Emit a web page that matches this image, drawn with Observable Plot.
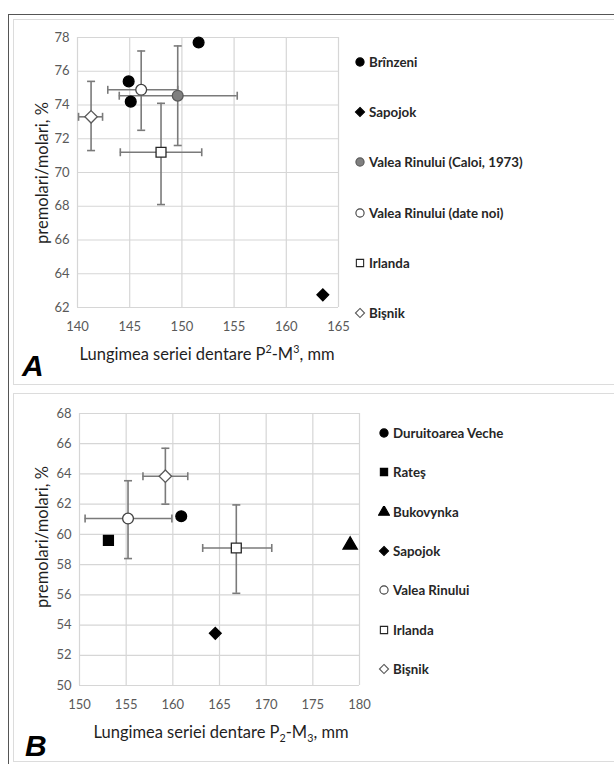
<!DOCTYPE html>
<html>
<head>
<meta charset="utf-8">
<script src="https://cdn.jsdelivr.net/npm/d3@7"></script>
<script src="https://cdn.jsdelivr.net/npm/@observablehq/plot@0.6"></script>
<style>
  html, body { margin: 0; padding: 0; background: #fff; }
  #root { position: relative; width: 614px; height: 764px; overflow: hidden; background: #fff; font-family: Lato, "Open Sans", sans-serif; }
  .frameOuter { position: absolute; left: 8px; top: 14px; width: 620px; height: 760px; border: 1.5px solid #555; box-sizing: border-box; }
  .panelBox { position: absolute; border: 1.5px solid #dcdcdc; box-sizing: border-box; }
  .ytitle { position: absolute; transform: translate(-50%, -50%) rotate(-90deg); white-space: nowrap; font-size: 16.5px; color: #1f1f1f; }
  .xtitle { position: absolute; transform: translate(-50%, -50%); white-space: nowrap; font-size: 16.5px; color: #1f1f1f; }
  .panelLetter { position: absolute; font-family: "Liberation Sans", Arial, sans-serif; font-weight: bold; font-style: italic; font-size: 30px; color: #000; line-height: 1; }
  .legItem { position: absolute; display: flex; align-items: center; white-space: nowrap; font-size: 13.3px; font-weight: bold; color: #262626; transform: translateY(-50%); }
  .legItem svg { margin-right: 3px; }
  sup, sub { font-size: 0.65em; }
</style>
</head>
<body>
<div id="root">
  <div class="frameOuter"></div>
  <div class="panelBox" style="left:13px;top:19px;width:610px;height:366px;"></div>
  <div class="panelBox" style="left:13px;top:393px;width:610px;height:369px;"></div>
</div>
<script>
// ---------------- Panel A data ----------------
const aSeries = ["Brînzeni", "Sapojok", "Valea Rinului (Caloi, 1973)", "Valea Rinului (date noi)", "Irlanda", "Bişnik"];
const aPointSeries = ["Brînzeni", "Brînzeni", "Brînzeni", "Sapojok", "Valea Rinului (Caloi, 1973)", "Valea Rinului (date noi)", "Irlanda", "Bişnik"];
const aX = [151.6, 144.9, 145.1, 163.5, 149.6, 146.1, 148.0, 141.3];
const aY = [77.7, 75.4, 74.2, 62.75, 74.55, 74.9, 71.2, 73.3];
const aErrSeries = ["Valea Rinului (Caloi, 1973)", "Valea Rinului (date noi)", "Irlanda", "Bişnik"];
const aErrXLo = [144.0, 142.9, 144.1, 140.1];
const aErrXHi = [155.3, 149.6, 151.9, 142.4];
const aErrYLo = [71.6, 72.5, 68.1, 71.3];
const aErrYHi = [77.5, 77.2, 74.1, 75.4];
const aXTicks = [140, 145, 150, 155, 160, 165];
const aYTicks = [62, 64, 66, 68, 70, 72, 74, 76, 78];

// ---------------- Panel B data ----------------
const bSeries = ["Duruitoarea Veche", "Rateş", "Bukovynka", "Sapojok", "Valea Rinului", "Irlanda", "Bişnik"];
const bPointSeries = ["Duruitoarea Veche", "Rateş", "Bukovynka", "Sapojok", "Valea Rinului", "Irlanda", "Bişnik"];
const bX = [160.9, 153.1, 179.0, 164.55, 155.2, 166.8, 159.2];
const bY = [61.2, 59.6, 59.3, 53.45, 61.05, 59.1, 63.85];
const bErrSeries = ["Valea Rinului", "Irlanda", "Bişnik"];
const bErrXLo = [150.6, 163.2, 156.8];
const bErrXHi = [159.9, 170.6, 161.6];
const bErrYLo = [58.4, 56.1, 62.0];
const bErrYHi = [63.55, 61.95, 65.7];
const bXTicks = [150, 155, 160, 165, 170, 175, 180];
const bYTicks = [50, 52, 54, 56, 58, 60, 62, 64, 66, 68];

// ---------------- marker styles ----------------
const styles = {
  "Brînzeni": {symbol: "circle", fill: "#000", stroke: "#000", r: 5.4},
  "Sapojok": {symbol: "diamond2", fill: "#000", stroke: "#000", r: 5.3},
  "Valea Rinului (Caloi, 1973)": {symbol: "circle", fill: "#7f7f7f", stroke: "#595959", r: 5.4},
  "Valea Rinului (date noi)": {symbol: "circle", fill: "#fff", stroke: "#404040", r: 5.4},
  "Irlanda": {symbol: "square", fill: "#fff", stroke: "#262626", r: 5.6},
  "Bişnik": {symbol: "diamond2", fill: "#fff", stroke: "#595959", r: 5.6},
  "Duruitoarea Veche": {symbol: "circle", fill: "#000", stroke: "#000", r: 5.4},
  "Rateş": {symbol: "square", fill: "#000", stroke: "#000", r: 5.6},
  "Bukovynka": {symbol: "triangle", fill: "#000", stroke: "#000", r: 5.3},
  "Valea Rinului": {symbol: "circle", fill: "#fff", stroke: "#404040", r: 5.4}
};

// custom cap symbols (pixel-sized error bar caps)
const hCap = {draw(ctx, size) { const r = Math.sqrt(size / Math.PI); ctx.moveTo(-r, 0); ctx.lineTo(r, 0); }};
const vCap = {draw(ctx, size) { const r = Math.sqrt(size / Math.PI); ctx.moveTo(0, -r); ctx.lineTo(0, r); }};

function buildPanel(cfg) {
  const pts = cfg.pointSeries.map((s, i) => ({series: s, x: cfg.x[i], y: cfg.y[i]}));
  const errs = cfg.errSeries.map((s, i) => {
    const p = pts.find(d => d.series === s);
    return {series: s, x: p.x, y: p.y, xlo: cfg.errXLo[i], xhi: cfg.errXHi[i], ylo: cfg.errYLo[i], yhi: cfg.errYHi[i]};
  });
  const errColor = "#7a7a7a";
  const marks = [
    Plot.gridX(cfg.xTicks, {stroke: "#d6d6d6", strokeOpacity: 1, strokeWidth: 1.2}),
    Plot.gridY(cfg.yTicks, {stroke: "#d6d6d6", strokeOpacity: 1, strokeWidth: 1.2}),
    Plot.axisX(cfg.xTicks, {tickSize: 0, tickPadding: 14, fill: "#595959", fontSize: 13}),
    Plot.axisY(cfg.yTicks, {tickSize: 0, tickPadding: 8, fill: "#595959", fontSize: 13}),
    Plot.ruleY(errs, {y: "y", x1: "xlo", x2: "xhi", stroke: errColor, strokeWidth: 1.6}),
    Plot.ruleX(errs, {x: "x", y1: "ylo", y2: "yhi", stroke: errColor, strokeWidth: 1.6}),
    Plot.dot(errs, {x: "xlo", y: "y", symbol: vCap, r: 4, stroke: errColor, fill: "none", strokeWidth: 1.6}),
    Plot.dot(errs, {x: "xhi", y: "y", symbol: vCap, r: 4, stroke: errColor, fill: "none", strokeWidth: 1.6}),
    Plot.dot(errs, {x: "x", y: "ylo", symbol: hCap, r: 4, stroke: errColor, fill: "none", strokeWidth: 1.6}),
    Plot.dot(errs, {x: "x", y: "yhi", symbol: hCap, r: 4, stroke: errColor, fill: "none", strokeWidth: 1.6})
  ];
  cfg.series.forEach(s => {
    const st = styles[s];
    marks.push(Plot.dot(pts.filter(d => d.series === s), {x: "x", y: "y", symbol: st.symbol, r: st.r, fill: st.fill, stroke: st.stroke, strokeWidth: 1.3}));
  });
  return Plot.plot({
    width: cfg.width, height: cfg.height,
    marginLeft: cfg.ml, marginRight: cfg.mr, marginTop: cfg.mt, marginBottom: cfg.mb,
    x: {domain: cfg.xDomain, label: null},
    y: {domain: cfg.yDomain, label: null},
    style: {fontFamily: "Lato, 'Open Sans', sans-serif", fontSize: "13px", background: "transparent", overflow: "visible"},
    marks
  });
}

const root = document.getElementById("root");

function place(el, left, top) {
  el.style.position = "absolute";
  el.style.left = left + "px";
  el.style.top = top + "px";
  root.appendChild(el);
}

function legendSymbolSVG(s) {
  const st = styles[s];
  const map = {circle: d3.symbolCircle, square: d3.symbolSquare, diamond2: d3.symbolDiamond2, triangle: d3.symbolTriangle};
  const sz = 4.1;
  const path = d3.symbol(map[st.symbol], Math.PI * sz * sz)();
  return `<svg width="12" height="12" viewBox="-6 -6 12 12"><path d="${path}" fill="${st.fill}" stroke="${st.stroke}" stroke-width="1.1"/></svg>`;
}

function addLegend(series, x, y0, dy) {
  series.forEach((s, i) => {
    const d = document.createElement("div");
    d.className = "legItem";
    d.innerHTML = legendSymbolSVG(s) + `<span>${s}</span>`;
    d.style.left = (x - 6) + "px";
    d.style.top = (y0 + i * dy) + "px";
    root.appendChild(d);
  });
}

function addText(cls, html, left, top) {
  const d = document.createElement("div");
  d.className = cls;
  d.innerHTML = html;
  d.style.left = left + "px";
  d.style.top = top + "px";
  root.appendChild(d);
}

// Panel A
const plotA = buildPanel({
  series: aSeries, pointSeries: aPointSeries, x: aX, y: aY,
  errSeries: aErrSeries, errXLo: aErrXLo, errXHi: aErrXHi, errYLo: aErrYLo, errYHi: aErrYHi,
  xTicks: aXTicks, yTicks: aYTicks, xDomain: [140, 165], yDomain: [62, 78],
  width: 400, height: 340, ml: 77, mr: 62, mt: 37, mb: 33
});
place(plotA, 0, 0);
addLegend(aSeries, 360, 62, 50.2);
addText("ytitle", "premolari/molari, %", 42, 173);
addText("xtitle", "Lungimea seriei dentare P<sup>2</sup>-M<sup>3</sup>, mm", 207, 353);
addText("panelLetter", "A", 22, 351);

// Panel B
const plotB = buildPanel({
  series: bSeries, pointSeries: bPointSeries, x: bX, y: bY,
  errSeries: bErrSeries, errXLo: bErrXLo, errXHi: bErrXHi, errYLo: bErrYLo, errYHi: bErrYHi,
  xTicks: bXTicks, yTicks: bYTicks, xDomain: [150, 180], yDomain: [50, 68],
  width: 420, height: 330, ml: 79, mr: 61, mt: 23, mb: 35
});
place(plotB, 0, 390);
addLegend(bSeries, 384, 433, 39.3);
addText("ytitle", "premolari/molari, %", 42, 537);
addText("xtitle", "Lungimea seriei dentare P<sub>2</sub>-M<sub>3</sub>, mm", 221, 733);
addText("panelLetter", "B", 25, 731);
</script>
</body>
</html>
